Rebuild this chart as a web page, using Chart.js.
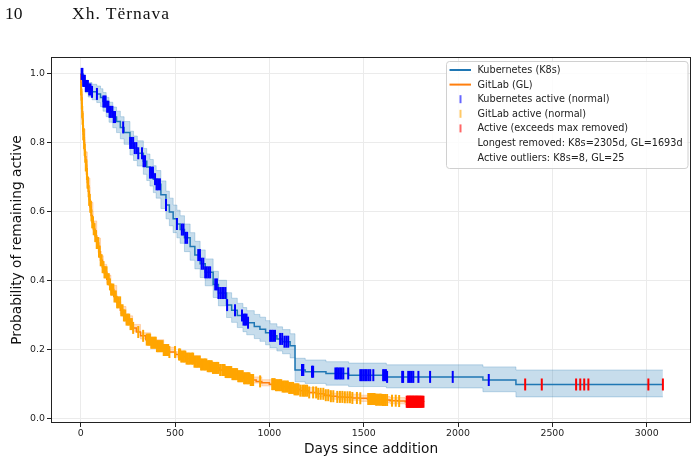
<!DOCTYPE html>
<html>
<head>
<meta charset="utf-8">
<script src="https://cdn.jsdelivr.net/npm/chart.js@4.4.1/dist/chart.umd.min.js"></script>
<style>
    html, body { margin: 0; padding: 0; background: #fff; }
    #wrap { position: relative; width: 699px; height: 463px; }
    .hdr { position: absolute; top: 3px; font-family: "Liberation Serif", serif; font-size: 17.5px; line-height: 20px; color: #111; white-space: pre; }
    #pageNo { left: 5px; }
    #author { left: 72px; letter-spacing: 1px; }
    canvas { position: absolute; left: 0; top: 0; }
</style>
</head>
<body>
<div id="wrap">
    <canvas id="km" width="699" height="463"></canvas>
    <div class="hdr" id="pageNo">10</div>
    <div class="hdr" id="author">Xh. Tërnava</div>
</div>
<script>
// --- Data ---

// Kubernetes Kaplan-Meier curve: event times (days) and survival after each step
const k8sTimes = [0, 12, 25, 40, 60, 85, 105, 118, 135, 150, 170, 190, 210, 230, 261, 280, 300, 332, 350, 367,
    385, 400, 425, 452, 470, 490, 510, 527, 550, 580, 605, 633, 660, 702, 730, 773, 800, 830, 860, 880,
    920, 950, 980, 1004, 1040, 1070, 1110, 1136, 1190, 1300, 1420, 1620, 2132, 2307, 3086];
const k8sSurv = [1.0, 0.98, 0.965, 0.955, 0.948, 0.942, 0.932, 0.92, 0.905, 0.89, 0.875, 0.862, 0.845, 0.83, 0.80, 0.785, 0.77, 0.747, 0.73, 0.714,
    0.695, 0.68, 0.65, 0.62, 0.60, 0.58, 0.565, 0.549, 0.525, 0.50, 0.475, 0.45, 0.425, 0.39, 0.365, 0.33, 0.315, 0.30, 0.288, 0.279,
    0.268, 0.26, 0.25, 0.241, 0.232, 0.224, 0.212, 0.142, 0.137, 0.132, 0.127, 0.122, 0.113, 0.100, 0.100];
const k8sLow = [1.0, 0.965, 0.945, 0.933, 0.925, 0.917, 0.905, 0.892, 0.876, 0.86, 0.844, 0.83, 0.812, 0.796, 0.765, 0.749, 0.733, 0.709, 0.691, 0.675,
    0.656, 0.64, 0.61, 0.58, 0.56, 0.54, 0.525, 0.509, 0.485, 0.46, 0.435, 0.41, 0.386, 0.352, 0.328, 0.294, 0.28, 0.265, 0.253, 0.244,
    0.233, 0.225, 0.215, 0.206, 0.197, 0.189, 0.177, 0.108, 0.103, 0.098, 0.094, 0.09, 0.079, 0.064, 0.064];
const k8sHigh = [1.0, 0.99, 0.982, 0.975, 0.97, 0.965, 0.957, 0.946, 0.932, 0.918, 0.904, 0.892, 0.876, 0.862, 0.834, 0.82, 0.806, 0.784, 0.768, 0.752,
    0.734, 0.72, 0.69, 0.66, 0.64, 0.62, 0.605, 0.589, 0.565, 0.54, 0.515, 0.49, 0.464, 0.428, 0.402, 0.366, 0.35, 0.335, 0.323, 0.314,
    0.303, 0.295, 0.285, 0.276, 0.267, 0.259, 0.247, 0.176, 0.171, 0.166, 0.162, 0.157, 0.151, 0.142, 0.142];

// GitLab Kaplan-Meier curve
const glTimes = [0, 1, 2, 3, 5, 7, 9, 11, 14, 17, 20, 23, 27, 31, 35, 40, 45, 49, 55, 61, 68, 76, 85, 95, 105, 115, 126, 138, 150, 160,
    175, 191, 210, 225, 240, 258, 275, 295, 317, 345, 370, 400, 440, 470, 503, 530, 560, 600, 635, 670, 700, 735, 767, 800, 830,
    865, 899, 930, 960, 1000, 1032, 1065, 1100, 1130, 1164, 1210, 1250, 1290, 1323, 1360, 1400, 1440, 1481, 1520, 1560, 1600, 1640, 1680, 1720, 1818];
const glSurv = [1.0, 0.975, 0.955, 0.94, 0.915, 0.89, 0.87, 0.85, 0.825, 0.80, 0.78, 0.76, 0.735, 0.71, 0.685, 0.66, 0.635, 0.615, 0.59, 0.57,
    0.55, 0.53, 0.51, 0.485, 0.46, 0.44, 0.425, 0.405, 0.39, 0.375, 0.355, 0.338, 0.315, 0.30, 0.288, 0.275, 0.264, 0.252, 0.241, 0.23,
    0.221, 0.211, 0.20, 0.194, 0.187, 0.181, 0.175, 0.166, 0.158, 0.153, 0.148, 0.142, 0.136, 0.13, 0.124, 0.118, 0.113, 0.109, 0.105, 0.101,
    0.098, 0.094, 0.09, 0.086, 0.082, 0.077, 0.073, 0.069, 0.066, 0.064, 0.063, 0.061, 0.06, 0.058, 0.056, 0.055, 0.053, 0.052, 0.05, 0.049];

// GitLab confidence band (coarser grid)
const glCiTimes = [0, 3, 8, 14, 23, 35, 49, 65, 85, 105, 120, 138, 160, 191, 210, 240, 275, 317, 370, 440, 503, 560, 635, 700, 767, 830,
    899, 960, 1032, 1100, 1164, 1250, 1323, 1400, 1481, 1560, 1640, 1720, 1818];
const glLow = [1.0, 0.93, 0.868, 0.81, 0.746, 0.672, 0.602, 0.546, 0.496, 0.447, 0.422, 0.393, 0.363, 0.327, 0.304, 0.277, 0.254, 0.232, 0.212, 0.192, 0.179, 0.166, 0.149, 0.139, 0.127, 0.115,
    0.104, 0.096, 0.089, 0.081, 0.073, 0.064, 0.057, 0.054, 0.051, 0.047, 0.044, 0.041, 0.039];
const glHigh = [1.0, 0.95, 0.892, 0.84, 0.774, 0.698, 0.628, 0.574, 0.524, 0.473, 0.448, 0.417, 0.387, 0.349, 0.326, 0.299, 0.274, 0.25, 0.23, 0.208, 0.195, 0.184, 0.167, 0.157, 0.145, 0.133,
    0.122, 0.114, 0.107, 0.099, 0.091, 0.082, 0.075, 0.072, 0.069, 0.065, 0.062, 0.059, 0.059];

// Censored (still active) entries, days since addition
const k8sActive = [5, 9, 13, 17, 22, 27, 33, 38, 45, 52, 60, 86, 120, 126, 132, 140, 147, 153, 160, 168, 175, 182, 225,
    262, 270, 278, 286, 295, 305, 325, 333, 341, 367, 375, 383, 394, 402, 410, 420, 452, 510, 536, 545, 555, 564,
    623, 632, 641, 650, 660, 668, 677, 686, 713, 722, 730, 740, 750, 758, 767, 776, 818, 855, 863, 871, 879, 887,
    1004, 1012, 1020, 1030, 1057, 1068, 1080, 1090, 1100, 1173, 1180, 1226, 1232, 1350, 1358, 1366, 1375, 1383, 1392,
    1418, 1482, 1490, 1499, 1508, 1516, 1526, 1535, 1551, 1603, 1610, 1618, 1624, 1704, 1709, 1736, 1745, 1754, 1763,
    1790, 1852, 1972, 2163];
const glActive = [2, 4, 6, 8, 10, 12, 14, 16, 18, 21, 24, 27, 30, 33, 36, 39, 42, 45, 48, 51, 54, 57, 61, 65, 69, 73, 77,
    81, 85, 89, 93, 97, 101, 106, 111, 116, 121, 126, 131, 137, 143, 149, 155, 161, 167, 173, 179, 186, 193, 200,
    209, 215, 222, 229, 236, 243, 250, 257, 264, 271, 278, 305, 331, 350, 356, 362, 368, 374, 380, 386, 392, 398, 404,
    410, 416, 422, 428, 434, 440, 446, 452, 458, 464, 470, 500, 521, 527, 533, 540, 547, 554, 561, 568, 575, 582, 590,
    596, 603, 610, 617, 624, 631, 638, 645, 652, 659, 666, 673, 680, 687, 694, 701, 708, 715, 722, 729, 739, 750, 756,
    762, 768, 774, 780, 786, 792, 798, 804, 810, 816, 822, 829, 835, 841, 847, 853, 859, 866, 873, 880, 887, 894, 901,
    908, 914, 951, 1015, 1021, 1028, 1035, 1042, 1049, 1056, 1063, 1070, 1077, 1084, 1091, 1098, 1105, 1112, 1119, 1126,
    1133, 1140, 1147, 1154, 1164, 1175, 1183, 1191, 1200, 1211, 1232, 1248, 1259, 1272, 1286, 1299, 1312, 1326, 1339,
    1360, 1374, 1387, 1400, 1414, 1427, 1440, 1464, 1482, 1524, 1530, 1537, 1544, 1551, 1558, 1565, 1572, 1579, 1586,
    1593, 1600, 1607, 1614, 1624, 1650, 1670, 1688];

// Active entries older than the longest removed one
const k8sOutliers = [2356, 2444, 2626, 2648, 2669, 2691, 3009, 3086];
const glOutliers = [1728, 1731, 1735, 1738, 1742, 1745, 1748, 1752, 1755, 1759, 1762, 1766, 1769, 1773, 1777, 1780, 1784,
    1787, 1791, 1795, 1799, 1803, 1807, 1812, 1817];

const longestRemoved = { k8s: 2305, gl: 1693 };

// Axis ticks
const xTicks = [0, 500, 1000, 1500, 2000, 2500, 3000];
const yTicks = [0.0, 0.2, 0.4, 0.6, 0.8, 1.0];

// --- Helpers ---
const font = 'DejaVu Sans';
const K8S_BLUE = '#1f77b4';
const GL_ORANGE = '#ff7f0e';

// survival value of a step curve at time t
function stepAt(times, surv, t) {
    let s = surv[0];
    for (let i = 0; i < times.length; i++) {
        if (times[i] <= t) s = surv[i];
        else break;
    }
    return s;
}

const toPoints = (times, vals) => times.map((t, i) => ({ x: t, y: vals[i] }));
const onCurve = (list, times, surv) => list.map(t => ({ x: t, y: stepAt(times, surv, t) }));

// --- Frame + legend drawn on top ---
const legendRows = [
    { kind: 'line', color: K8S_BLUE, text: 'Kubernetes (K8s)' },
    { kind: 'line', color: GL_ORANGE, text: 'GitLab (GL)' },
    { kind: 'tick', color: 'rgba(0, 0, 255, 0.6)', text: 'Kubernetes active (normal)' },
    { kind: 'tick', color: 'rgba(255, 165, 0, 0.6)', text: 'GitLab active (normal)' },
    { kind: 'tick', color: 'rgba(255, 0, 0, 0.6)', text: 'Active (exceeds max removed)' },
    { kind: 'none', text: `Longest removed: K8s=${longestRemoved.k8s}d, GL=${longestRemoved.gl}d` },
    { kind: 'none', text: `Active outliers: K8s=${k8sOutliers.length}, GL=${glOutliers.length}` }
];

const framePlugin = {
    id: 'frameAndLegend',
    afterDraw(chart) {
        const { ctx, chartArea: a } = chart;
        ctx.save();

        // spines
        ctx.strokeStyle = '#222';
        ctx.lineWidth = 1;
        ctx.strokeRect(a.left + 0.5, a.top + 0.5, a.right - a.left - 1, a.bottom - a.top - 1);

        // legend box
        const bx = a.right - 244.5, by = a.top + 4.5, bw = 241.5, bh = 107;
        ctx.beginPath();
        ctx.roundRect(bx, by, bw, bh, 3);
        ctx.fillStyle = 'rgba(255, 255, 255, 0.85)';
        ctx.fill();
        ctx.strokeStyle = '#d0d0d0';
        ctx.stroke();

        ctx.font = `9.7px "${font}"`;
        ctx.textBaseline = 'middle';
        legendRows.forEach((row, i) => {
            const y = by + 8.5 + i * 14.6;
            if (row.kind === 'line') {
                ctx.strokeStyle = row.color;
                ctx.lineWidth = 2;
                ctx.beginPath();
                ctx.moveTo(bx + 3, y);
                ctx.lineTo(bx + 24.5, y);
                ctx.stroke();
            } else if (row.kind === 'tick') {
                ctx.strokeStyle = row.color;
                ctx.lineWidth = 2;
                ctx.beginPath();
                ctx.moveTo(bx + 14, y - 4);
                ctx.lineTo(bx + 14, y + 4);
                ctx.stroke();
            }
            ctx.fillStyle = '#222';
            ctx.fillText(row.text, bx + 31, y + 0.5);
        });
        ctx.restore();
    }
};

// --- Chart ---
const gridOpts = { color: '#ebebeb', tickColor: '#222', tickLength: 4, lineWidth: 1 };
const tickFont = { family: font, size: 9.4 };
const titleFont = { family: font, size: 13.7 };

const markerStyle = color => ({
    showLine: false,
    pointStyle: 'line',
    rotation: 90,
    pointRadius: 6,
    pointHoverRadius: 6,
    pointBorderWidth: 2,
    borderColor: color,
    backgroundColor: color
});

const bandStyle = color => ({
    showLine: true,
    stepped: true,
    pointRadius: 0,
    borderWidth: 1,
    borderColor: color,
    backgroundColor: color
});

new Chart(document.getElementById('km'), {
    type: 'scatter',
    data: {
        datasets: [
            { label: 'k8s-low', data: toPoints(k8sTimes, k8sLow), ...bandStyle('rgba(31, 119, 180, 0.25)'), fill: false, order: 10 },
            { label: 'k8s-high', data: toPoints(k8sTimes, k8sHigh), ...bandStyle('rgba(31, 119, 180, 0.25)'), fill: 0, order: 10 },
            { label: 'gl-low', data: toPoints(glCiTimes, glLow), ...bandStyle('rgba(255, 127, 14, 0.25)'), fill: false, order: 9 },
            { label: 'gl-high', data: toPoints(glCiTimes, glHigh), ...bandStyle('rgba(255, 127, 14, 0.25)'), fill: 2, order: 9 },
            {
                label: 'Kubernetes (K8s)', data: toPoints(k8sTimes, k8sSurv),
                showLine: true, stepped: true, pointRadius: 0, borderColor: K8S_BLUE, borderWidth: 1.5, order: 6
            },
            {
                label: 'GitLab (GL)', data: toPoints(glTimes, glSurv),
                showLine: true, stepped: true, pointRadius: 0, borderColor: GL_ORANGE, borderWidth: 1.5, order: 6
            },
            { label: 'Kubernetes active (normal)', data: onCurve(k8sActive, k8sTimes, k8sSurv), ...markerStyle('#0000ff'), order: 3 },
            { label: 'GitLab active (normal)', data: onCurve(glActive, glTimes, glSurv), ...markerStyle('#ffa500'), order: 3 },
            {
                label: 'Active (exceeds max removed)',
                data: onCurve(k8sOutliers, k8sTimes, k8sSurv).concat(onCurve(glOutliers, glTimes, glSurv)),
                ...markerStyle('#ff0000'), order: 2
            }
        ]
    },
    options: {
        responsive: false,
        animation: false,
        devicePixelRatio: 1,
        layout: { padding: { top: 57, right: 8, left: 0, bottom: 0 } },
        plugins: {
            legend: { display: false },
            tooltip: { enabled: false }
        },
        scales: {
            x: {
                type: 'linear',
                min: -157.5,
                max: 3235,
                afterBuildTicks: s => { s.ticks = xTicks.map(v => ({ value: v })); },
                afterFit: s => { s.height = 40; },
                grid: gridOpts,
                border: { display: false },
                ticks: { padding: 1, color: '#222', font: tickFont, callback: v => String(v) },
                title: {
                    display: true, text: 'Days since addition', color: '#111',
                    font: titleFont, padding: { top: 0, bottom: 5 }
                }
            },
            y: {
                type: 'linear',
                min: -0.0116,
                max: 1.049,
                afterBuildTicks: s => { s.ticks = yTicks.map(v => ({ value: v })); },
                afterFit: s => { s.width = 51; },
                grid: gridOpts,
                border: { display: false },
                ticks: { padding: 2, color: '#222', font: tickFont, callback: v => v.toFixed(1) },
                title: {
                    display: true, text: 'Probability of remaining active', color: '#111',
                    font: titleFont, padding: { top: 9, bottom: 0 }
                }
            }
        }
    },
    plugins: [framePlugin]
});
</script>
</body>
</html>
